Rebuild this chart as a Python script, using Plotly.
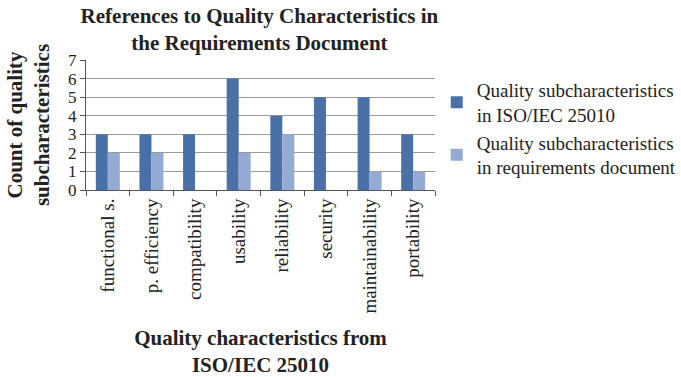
import plotly.graph_objects as go

categories = ["functional s.", "p. efficiency", "compatibility", "usability",
              "reliability", "security", "maintainability", "portability"]
iso_counts = [3, 3, 3, 6, 4, 5, 5, 3]
req_counts = [2, 2, 0, 2, 3, 0, 1, 1]
series_names = ["Quality subcharacteristics<br>in ISO/IEC 25010",
                "Quality subcharacteristics<br>in requirements document"]
y_ticks = [0, 1, 2, 3, 4, 5, 6, 7]

FONT = "Liberation Serif"

fig = go.Figure()
fig.add_trace(go.Bar(x=categories, y=iso_counts, name=series_names[0],
                     marker=dict(color="#4A70A8", line=dict(width=0))))
fig.add_trace(go.Bar(x=categories, y=req_counts, name=series_names[1],
                     marker=dict(color="#95AAD3", line=dict(width=0))))

fig.update_layout(
    width=681, height=377,
    margin=dict(l=86, r=246, t=60, b=187, autoexpand=False),
    paper_bgcolor="white", plot_bgcolor="white",
    font=dict(family=FONT, color="#222222", size=18),
    barmode="group", bargap=0.45, bargroupgap=0,
    title=dict(text="<b>References to Quality Characteristics in<br>the Requirements Document</b>",
               x=0.381, xanchor="center", y=0.94, yanchor="top",
               font=dict(family=FONT, size=21, color="#222222")),
    showlegend=True,
    legend=dict(x=1.005, xanchor="left", y=0.915, yanchor="top",
                font=dict(family=FONT, size=19, color="#222222"),
                tracegroupgap=21, itemwidth=30, bgcolor="rgba(0,0,0,0)"),
    xaxis=dict(
        tickangle=-90, tickson="boundaries", ticks="outside", ticklen=5,
        tickcolor="#555555", showline=True, linecolor="#555555", linewidth=1,
        tickfont=dict(family=FONT, size=19, color="#222222"),
        title=dict(text="<b>Quality characteristics from<br>ISO/IEC 25010</b>",
                   font=dict(family=FONT, size=21, color="#222222"), standoff=18),
    ),
    yaxis=dict(
        range=[0, 7], tickvals=y_ticks, ticks="outside", ticklen=5,
        tickcolor="#555555", showline=True, linecolor="#555555", linewidth=1,
        showgrid=True, gridcolor="#9a9a9a", gridwidth=1, zeroline=False,
        tickfont=dict(family=FONT, size=17, color="#222222"),
        title=dict(text="<b>Count of quality<br>subcharacteristics</b>",
                   font=dict(family=FONT, size=21, color="#222222"), standoff=12),
    ),
)

fig.write_html("out.html")
